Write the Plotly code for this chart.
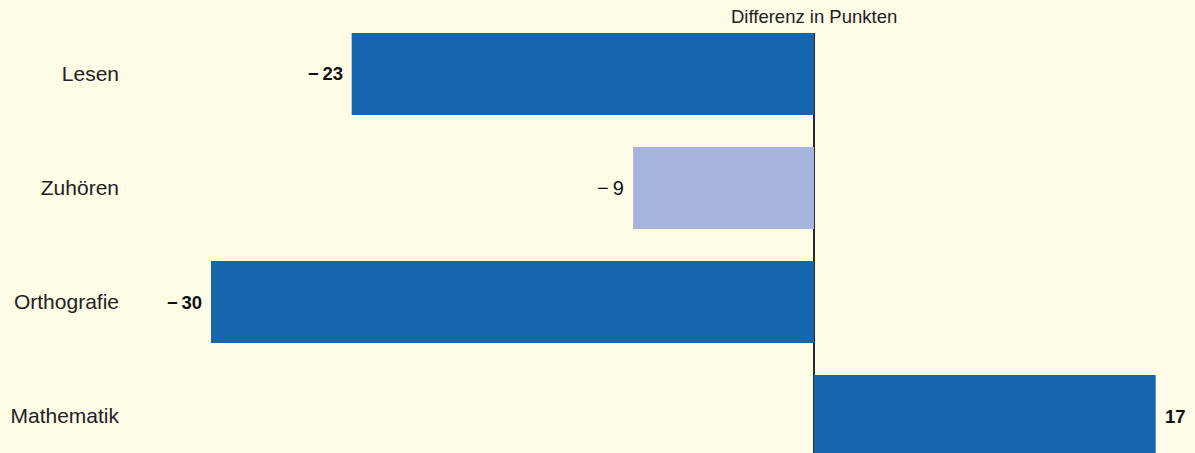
import plotly.graph_objects as go

categories = ["Lesen", "Zuhören", "Orthografie", "Mathematik"]
values = [-23, -9, -30, 17]
significant = [True, False, True, True]
labels = ["\u2212\u200923", "\u2212\u20099", "\u2212\u200930", "17"]

DARK = "#1666AE"
LIGHT = "#A6B4DD"
BG = "#FEFBE7"
FONT = "Liberation Sans, Arial, sans-serif"

colors = [DARK if s else LIGHT for s in significant]

fig = go.Figure()
fig.add_trace(go.Bar(
    y=categories, x=values, orientation="h",
    marker=dict(color=colors, line=dict(width=0)),
    width=0.719, hoverinfo="skip",
))

for c, v, lab, s in zip(categories, values, labels, significant):
    fig.add_annotation(
        x=v, y=c, xref="x", yref="y",
        text=f"<b>{lab}</b>" if s else lab,
        showarrow=False,
        xanchor="right" if v < 0 else "left",
        xshift=-7 if v < 0 else 7,
        font=dict(size=18.5 if s else 20, color="#111111", family=FONT),
    )

fig.add_annotation(
    x=0, y=1, xref="x", yref="paper", yanchor="bottom", yshift=4,
    text="Differenz in Punkten", showarrow=False,
    font=dict(size=18.5, color="#222222", family=FONT),
)

fig.update_layout(
    width=1195, height=453,
    margin=dict(l=130, r=0, t=33, b=0),
    paper_bgcolor=BG, plot_bgcolor=BG,
    showlegend=False,
    xaxis=dict(range=[-34.03, 18.955], showgrid=False, showticklabels=False,
               zeroline=True, zerolinecolor="#2a2a2a", zerolinewidth=1.5, fixedrange=True),
    yaxis=dict(type="category", range=[3.3246, -0.3596], showgrid=False, zeroline=False,
               ticks="", ticklabelstandoff=10, fixedrange=True,
               tickfont=dict(size=21, color="#222222", family=FONT)),
)

fig.write_html(
    "out.html",
    config={"displayModeBar": False, "staticPlot": True},
    post_script="document.body.style.margin='0';document.body.style.padding='0';"
                "document.body.style.background='" + BG + "';",
)
